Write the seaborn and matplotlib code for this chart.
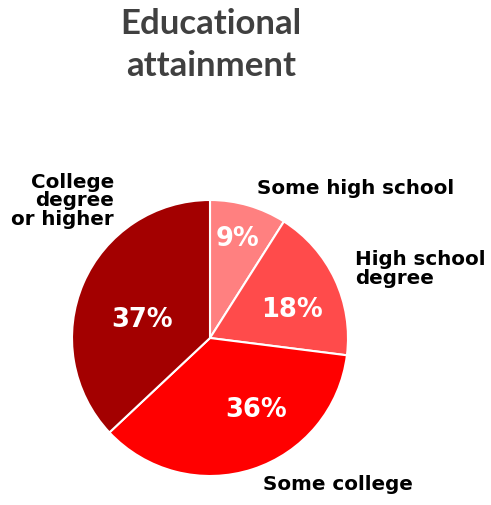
import matplotlib
matplotlib.use("Agg")
import matplotlib.pyplot as plt
import seaborn as sns

categories = ["Some high school", "High school\ndegree", "Some college", "College\ndegree\nor higher"]
values = [9, 18, 36, 37]
pct_labels = ["9%", "18%", "36%", "37%"]
colors = ["#FF8080", "#FF4B4B", "#FF0000", "#A30000"]
title_lines = "Educational\nattainment"

sns.set_theme(style="white")
plt.rcParams['font.family'] = ['DejaVu Sans']

W, H = 491, 505
fig = plt.figure(figsize=(W / 100, H / 100), dpi=100)
ax = fig.add_axes([0, 0, 1, 1])

cx, cy, r = 210, H - 338, 138
wedges, _ = ax.pie(values, colors=colors, startangle=90, counterclock=False,
                   center=(cx, cy), radius=r, frame=True,
                   wedgeprops=dict(edgecolor="white", linewidth=1.5))
ax.set_xlim(0, W)
ax.set_ylim(0, H)
ax.set_aspect("equal")
ax.axis("off")

# percentage labels (pixel positions from top-left)
pct_pos = [(238, 239), (292, 310), (256, 410), (142, 320)]
for (px, py), t in zip(pct_pos, pct_labels):
    ax.text(px, H - py, t, color="white", fontsize=18.5, fontweight="bold",
            ha="center", va="center")

# category labels
lab_pos = [(257, 189, "left"), (355, 269, "left"), (263, 485, "left"), (114, 201, "right")]
for (px, py, ha), t in zip(lab_pos, categories):
    ax.text(px, H - py, t, color="black", fontsize=14.3, fontweight="bold",
            ha=ha, va="center", linespacing=0.97)

ax.text(211, H - 45, title_lines, color="#404040", fontsize=25, fontweight="bold",
        ha="center", va="center", family=["Lato", "DejaVu Sans"], linespacing=1.35)

fig.savefig("out.png", dpi=100)
